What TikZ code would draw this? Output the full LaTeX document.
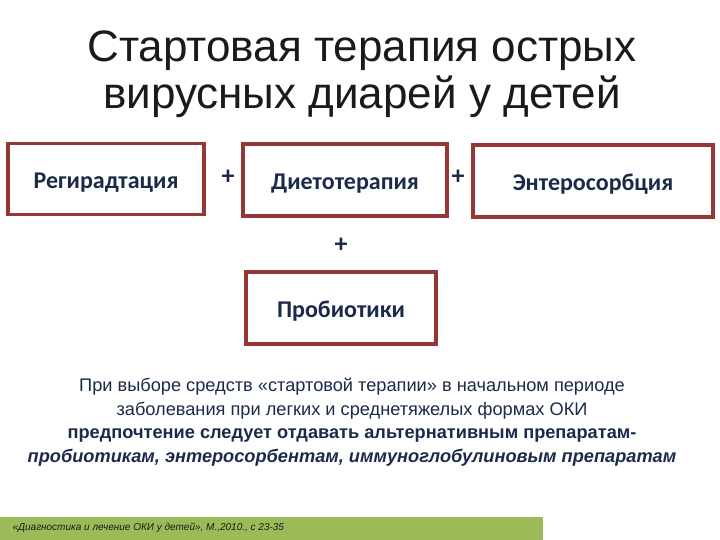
\documentclass[tikz,border=0pt]{standalone}
\usepackage{fontspec}
\setmainfont{Carlito}
\newfontfamily\arialfont{Liberation Sans}
\usepackage{xcolor}
\usetikzlibrary{positioning}
\definecolor{boxred}{HTML}{953735}
\definecolor{navy}{HTML}{1B2A4A}
\definecolor{titlegray}{HTML}{1A1A1A}
\definecolor{footgreen}{HTML}{9BBB59}

\begin{document}
\begin{tikzpicture}[
  x=1pt, y=-1pt,
  box/.style={draw=boxred, line width=3.5pt, fill=white, align=center, inner sep=0pt,
    text height=19pt, text depth=0pt,
    font=\fontsize{24}{28}\selectfont\bfseries, text=navy},
  plus/.style={font=\fontsize{26}{26}\selectfont\bfseries, text=navy}
]
\useasboundingbox (0,0) rectangle (720,540);

\node[text=titlegray, align=center, font=\arialfont\fontsize{44}{47}\selectfont] (title) at (362,74)
  {Стартовая терапия острых\\вирусных диарей у детей};

\node[box, minimum width=196pt, minimum height=71pt] (reghyd) at (106,179) {Регирадтация};
\node[box, minimum width=204pt, minimum height=72pt] (diet) at (345,180) {Диетотерапия};
\node[box, minimum width=240pt, minimum height=72pt] (entero) at (593,181) {Энтеросорбция};
\node[box, minimum width=190pt, minimum height=72pt] (probio) at (341,308) {Пробиотики};

\node[plus] (plusa) at (228,177) {+};
\node[plus] (plusb) at (458,177) {+};
\node[plus] (plusc) at (341,245) {+};

\node[text=navy, align=center, font=\arialfont\fontsize{18.2}{23.5}\selectfont] (note) at (352,422)
  {При выборе средств «стартовой терапии» в начальном периоде\\
   заболевания при легких и среднетяжелых формах ОКИ\\
   \textbf{предпочтение следует отдавать альтернативным препаратам-}\\
   \textbf{\itshape пробиотикам, энтеросорбентам, иммуноглобулиновым препаратам}};

\fill[footgreen] (0,517) rectangle (543,540);
\node[anchor=west, text=titlegray, font=\arialfont\fontsize{10}{12}\selectfont\itshape] (source) at (9,528)
  {«Диагностика и лечение ОКИ у детей», М.,2010., с 23-35};
\end{tikzpicture}
\end{document}
